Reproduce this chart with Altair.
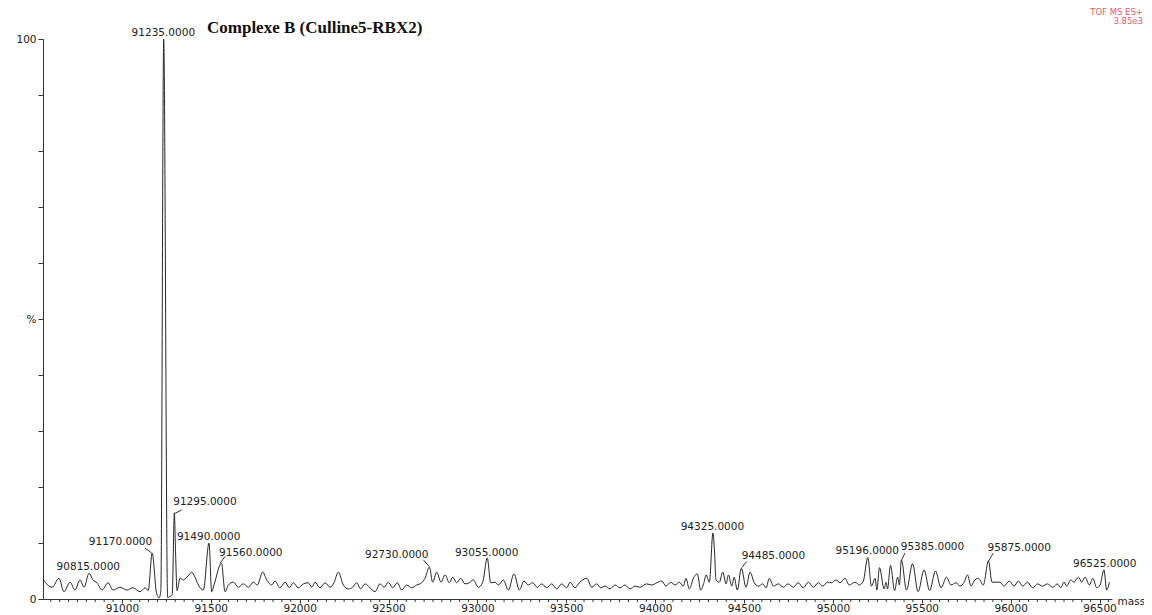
import altair as alt
import pandas as pd

# ---------------- data ----------------
mass = [
    90558, 90607, 90646, 90674, 90708, 90736, 90764, 90787, 90815, 90837,
    90860, 90888, 90922, 90950, 90989, 91029, 91062, 91102, 91130, 91148,
    91170, 91195, 91209, 91219, 91235, 91257, 91283, 91295, 91302, 91310,
    91327, 91345, 91365, 91377, 91393, 91411, 91430, 91458, 91490, 91505,
    91518, 91560, 91580, 91599, 91627, 91655, 91683, 91711, 91739, 91762,
    91792, 91815, 91843, 91861, 91889, 91918, 91942, 91964, 91992, 92021,
    92049, 92069, 92086, 92114, 92143, 92171, 92193, 92217, 92246, 92274,
    92298, 92321, 92343, 92368, 92396, 92424, 92452, 92475, 92499, 92523,
    92549, 92574, 92602, 92630, 92658, 92687, 92705, 92730, 92748, 92771,
    92795, 92818, 92842, 92861, 92883, 92906, 92930, 92954, 92977, 93005,
    93030, 93055, 93075, 93099, 93118, 93146, 93174, 93206, 93236, 93262,
    93286, 93311, 93337, 93362, 93390, 93418, 93446, 93474, 93502, 93521,
    93549, 93573, 93615, 93643, 93671, 93694, 93718, 93746, 93774, 93802,
    93830, 93858, 93887, 93915, 93952, 93980, 94009, 94037, 94061, 94087,
    94112, 94136, 94158, 94173, 94192, 94215, 94237, 94256, 94275, 94286,
    94305, 94325, 94334, 94342, 94361, 94380, 94399, 94412, 94431, 94444,
    94462, 94485, 94511, 94534, 94556, 94580, 94605, 94624, 94642, 94665,
    94693, 94721, 94749, 94777, 94805, 94833, 94862, 94890, 94918, 94943,
    94969, 94993, 95017, 95040, 95068, 95092, 95124, 95149, 95171, 95196,
    95217, 95237, 95247, 95262, 95288, 95299, 95307, 95324, 95347, 95364,
    95374, 95385, 95414, 95448, 95479, 95513, 95544, 95577, 95608, 95639,
    95664, 95693, 95715, 95738, 95757, 95777, 95794, 95818, 95846, 95875,
    95895, 95940, 95963, 95992, 96019, 96043, 96068, 96094, 96124, 96150,
    96180, 96206, 96237, 96262, 96282, 96300, 96315, 96338, 96356, 96381,
    96400, 96418, 96443, 96462, 96484, 96503, 96525, 96540, 96555,
]
intensity = [
    3.4, 2.1, 3.7, 1.3, 3.0, 1.6, 3.4, 2.1, 4.6, 3.4,
    2.9, 1.6, 2.9, 1.6, 2.1, 1.6, 2.0, 1.3, 2.0, 1.5,
    8.2, 1.0, 0.2, 1.5, 100, 0.3, 0.8, 15.4, 8.0, 1.5,
    3.7, 3.4, 3.9, 4.3, 4.8, 3.9, 2.5, 1.6, 10.0, 1.3,
    2.5, 6.4, 1.3, 2.5, 3.0, 2.1, 2.7, 2.1, 3.0, 2.5,
    4.8, 3.4, 2.5, 3.2, 2.0, 3.0, 2.0, 2.9, 2.0, 2.7,
    2.9, 2.1, 3.0, 2.0, 2.9, 2.1, 2.9, 4.8, 2.5, 1.8,
    2.1, 2.9, 1.8, 2.7, 2.0, 1.3, 2.7, 2.1, 3.0, 2.0,
    2.9, 1.6, 2.5, 2.0, 2.5, 2.9, 3.7, 5.7, 3.0, 4.8,
    3.0, 4.3, 2.9, 3.9, 2.9, 3.7, 2.7, 2.9, 3.4, 2.1,
    3.0, 7.3, 2.9, 3.0, 2.5, 3.4, 1.6, 4.5, 1.6, 3.2,
    2.5, 2.9, 2.1, 2.7, 2.0, 2.7, 1.8, 2.7, 2.0, 3.0,
    2.0, 2.9, 3.7, 2.1, 2.7, 2.0, 2.3, 1.8, 2.5, 2.0,
    2.5, 1.8, 2.3, 2.1, 2.7, 2.5, 2.9, 3.2, 2.3, 3.0,
    2.5, 3.0, 2.3, 3.7, 1.8, 3.7, 4.5, 1.6, 3.0, 4.3,
    3.0, 11.8, 8.4, 3.4, 3.0, 4.8, 2.7, 4.3, 2.3, 3.9,
    1.6, 5.5, 2.1, 4.8, 3.0, 2.3, 2.7, 2.0, 3.7, 2.3,
    2.7, 2.1, 2.7, 2.1, 2.9, 2.0, 3.0, 2.1, 2.9, 2.3,
    3.0, 2.9, 3.4, 2.9, 3.7, 2.5, 3.0, 2.5, 3.2, 7.4,
    2.3, 3.7, 1.6, 5.6, 1.8, 3.0, 1.8, 6.0, 1.5, 3.9,
    2.5, 7.0, 1.6, 6.3, 1.3, 5.2, 1.5, 5.0, 2.0, 3.9,
    2.5, 2.9, 2.3, 3.0, 4.3, 2.3, 3.2, 3.7, 2.5, 6.8,
    3.0, 3.0, 2.3, 3.2, 2.3, 3.2, 2.3, 3.0, 2.0, 2.7,
    2.3, 2.7, 2.1, 2.7, 2.0, 3.0, 2.3, 3.4, 3.0, 3.9,
    3.0, 3.9, 2.5, 3.7, 2.0, 2.5, 5.2, 1.6, 3.0,
]
assert len(mass) == len(intensity)

# peak labels (text, centre of the label in mass / % units)
label_text = ["90815.0000", "91170.0000", "91235.0000", "91295.0000", "91490.0000",
              "91560.0000", "92730.0000", "93055.0000", "94325.0000", "94485.0000",
              "95196.0000", "95385.0000", "95875.0000", "96525.0000"]
label_mass = [90811, 90992, 91233, 91467, 91488, 91725, 92546, 93052, 94322, 94665,
              95193, 95560, 96048, 96529]
label_pct = [5.8, 10.2, 101.1, 17.4, 11.0, 8.3, 7.9, 8.3, 12.8, 7.6, 8.5, 9.2, 9.1, 6.2]

# leader lines from peak apex to shifted labels
leader_peak_mass = [91168, 91299, 91552, 92729, 94487, 95387, 95874]
leader_peak_pct = [8.2, 15.3, 6.4, 5.8, 5.6, 7.0, 6.7]
leader_label_mass = [91130, 91336, 91580, 92696, 94515, 95405, 95902]
leader_label_pct = [9.1, 15.9, 7.6, 7.0, 6.7, 8.2, 8.2]

x_major_ticks = list(range(91000, 96501, 500))
x_minor_ticks = [v for v in range(90600, 96551, 50) if v % 500 != 0]
y_tick_values = list(range(0, 101, 10))

title_text = "Complexe B (Culline5-RBX2)"
corner_lines = ["TOF MS ES+", "3.85e3"]

# ---------------- chart ----------------
W, H = 1069, 560
INK = "#222222"
AXIS = "#333333"
SANS = "DejaVu Sans"

x_scale = alt.Scale(domain=[90556, 96570], nice=False, zero=False)
y_scale = alt.Scale(domain=[0, 100], nice=False, zero=True)

spec_df = pd.DataFrame({"mass": mass, "pct": intensity})
lab_df = pd.DataFrame({"text": label_text, "mass": label_mass, "pct": label_pct})
lead_df = pd.DataFrame({"m1": leader_peak_mass, "p1": leader_peak_pct,
                        "m2": leader_label_mass, "p2": leader_label_pct})
minor_df = pd.DataFrame({"tick": x_minor_ticks})

x_axis = alt.Axis(
    values=x_major_ticks,
    format="d",
    tickSize=4,
    tickColor=AXIS,
    domainColor=AXIS,
    labelFont=SANS,
    labelFontSize=10.5,
    labelColor=INK,
    labelPadding=0,
    labelFlush=False,
    labelOverlap=False,
    grid=False,
    title="mass",
    titleFont=SANS,
    titleFontSize=10.5,
    titleFontWeight="normal",
    titleColor=INK,
    titleX=W + 5,
    titleY=5,
    titleAlign="left",
    titleBaseline="alphabetic",
)
y_axis = alt.Axis(
    values=y_tick_values,
    labelExpr="datum.value == 100 ? '100' : (datum.value == 50 ? '%' : (datum.value == 0 ? '0' : ''))",
    tickSize=5,
    tickColor=AXIS,
    domainColor=AXIS,
    labelFont=SANS,
    labelFontSize=10.5,
    labelColor=INK,
    labelPadding=2,
    labelOverlap=False,
    labelFlush=False,
    grid=False,
    title=None,
)

line = alt.Chart(spec_df).mark_line(
    color="#262626", strokeWidth=1, interpolate="monotone"
).encode(
    x=alt.X("mass:Q", scale=x_scale, axis=x_axis),
    y=alt.Y("pct:Q", scale=y_scale, axis=y_axis),
)

minor = alt.Chart(minor_df).mark_rule(color=AXIS, strokeWidth=1).encode(
    x=alt.X("tick:Q", scale=x_scale, axis=x_axis),
    y=alt.value(H),
    y2=alt.value(H + 3),
)

leaders = alt.Chart(lead_df).mark_rule(color=AXIS, strokeWidth=1).encode(
    x=alt.X("m1:Q", scale=x_scale, axis=x_axis),
    y=alt.Y("p1:Q", scale=y_scale, axis=y_axis),
    x2="m2:Q",
    y2="p2:Q",
)

labels = alt.Chart(lab_df).mark_text(
    font=SANS, fontSize=10.5, color=INK, align="center", baseline="middle"
).encode(
    x=alt.X("mass:Q", scale=x_scale, axis=x_axis),
    y=alt.Y("pct:Q", scale=y_scale, axis=y_axis),
    text="text:N",
)

title = alt.Chart(pd.DataFrame({"t": [title_text]})).mark_text(
    font="Liberation Serif", fontSize=17, fontWeight="bold", color="#111111",
    align="left", baseline="alphabetic"
).encode(text="t:N", x=alt.value(164), y=alt.value(-6))

corner1 = alt.Chart(pd.DataFrame({"t": [corner_lines[0]]})).mark_text(
    font=SANS, fontSize=8.5, color="#e0606a", align="right", baseline="middle"
).encode(text="t:N", x=alt.value(W + 31), y=alt.value(-27))

corner2 = alt.Chart(pd.DataFrame({"t": [corner_lines[1]]})).mark_text(
    font=SANS, fontSize=8.5, color="#e0606a", align="right", baseline="middle"
).encode(text="t:N", x=alt.value(W + 31), y=alt.value(-18))

chart = alt.layer(line, minor, leaders, labels, title, corner1, corner2).properties(
    width=W,
    height=H,
    autosize=alt.AutoSizeParams(type="none"),
    padding={"left": 35, "top": 31, "right": 32, "bottom": 16},
).configure_view(stroke=None)

chart.save("out.html", embed_options={"renderer": "svg", "actions": False})
